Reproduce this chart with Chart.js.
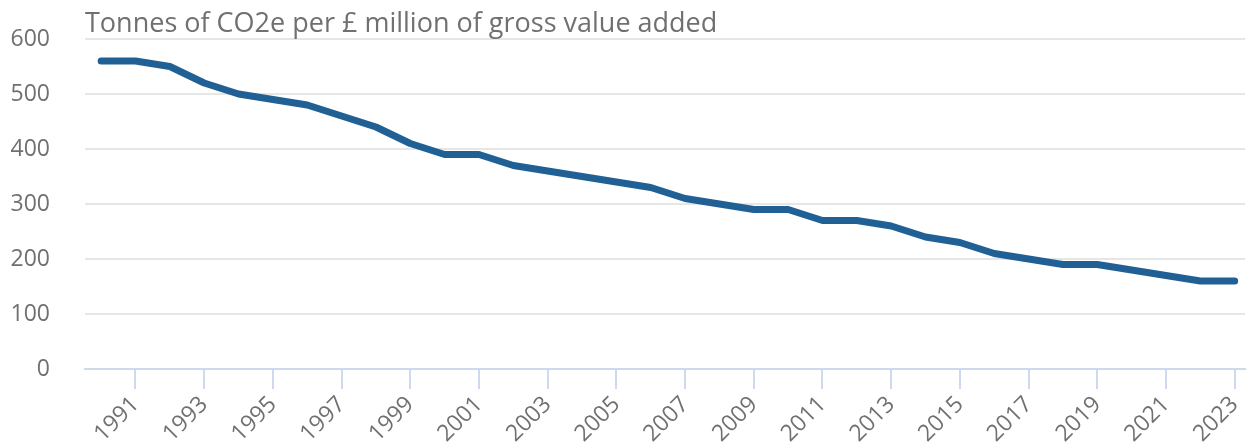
<!DOCTYPE html>
<html lang="en">
<head>
  <meta charset="UTF-8">
  <title>Emissions intensity</title>
  <script src="https://cdn.jsdelivr.net/npm/chart.js"></script>
  <style>
    html, body {
      margin: 0;
      padding: 0;
      background: #fff;
      font-family: 'Open Sans', sans-serif;
    }
    .wrap {
      position: relative;
      width: 1247px;
      height: 443px;
    }
    .chart-title {
      position: absolute;
      left: 85px;
      top: 3px;
      font-size: 27px;
      line-height: normal;
      color: #707071;
      margin: 0;
      font-weight: normal;
      white-space: nowrap;
    }
  </style>
</head>
<body>
  <div class="wrap">
    <h2 class="chart-title">Tonnes of CO2e per £ million of gross value added</h2>
    <canvas id="co2Chart" width="1247" height="443"></canvas>
  </div>

  <script>
    const years = [1990, 1991, 1992, 1993, 1994, 1995, 1996, 1997, 1998, 1999,
      2000, 2001, 2002, 2003, 2004, 2005, 2006, 2007, 2008, 2009,
      2010, 2011, 2012, 2013, 2014, 2015, 2016, 2017, 2018, 2019,
      2020, 2021, 2022, 2023];
    const tonnesPerMillion = [560, 560, 550, 520, 500, 490, 480, 460, 440, 410,
      390, 390, 370, 360, 350, 340, 330, 310, 300, 290,
      290, 270, 270, 260, 240, 230, 210, 200, 190, 190,
      180, 170, 160, 160];
    const tickYears = [1991, 1993, 1995, 1997, 1999, 2001, 2003, 2005, 2007, 2009,
      2011, 2013, 2015, 2017, 2019, 2021, 2023];
    const yTicks = [0, 100, 200, 300, 400, 500, 600];

    const ctx = document.getElementById("co2Chart").getContext("2d");
    new Chart(ctx, {
      type: "line",
      data: {
        datasets: [{
          label: "Tonnes of CO2e per £ million GVA",
          data: years.map((y, i) => ({ x: y, y: tonnesPerMillion[i] })),
          borderColor: "#206095",
          backgroundColor: "#206095",
          borderWidth: 7,
          borderCapStyle: "round",
          borderJoinStyle: "round",
          pointRadius: 0,
          tension: 0,
          fill: false
        }]
      },
      options: {
        responsive: false,
        animation: false,
        layout: {
          padding: { left: 10, right: 2, top: 39, bottom: 0 }
        },
        plugins: {
          legend: { display: false },
          title: { display: false },
          tooltip: { enabled: false }
        },
        scales: {
          x: {
            type: "linear",
            min: 1989.53,
            max: 2023.3,
            afterBuildTicks: axis => {
              axis.ticks = tickYears.map(v => ({ value: v }));
            },
            afterFit: axis => {
              axis.height = 74;
              axis.paddingLeft = 0;
              axis.paddingRight = 0;
            },
            ticks: {
              autoSkip: false,
              maxRotation: 45,
              minRotation: 45,
              padding: 2,
              color: "#707071",
              font: { family: "'Open Sans', sans-serif", size: 23 },
              callback: v => String(v)
            },
            grid: {
              drawOnChartArea: false,
              drawTicks: true,
              tickLength: 20,
              color: "#cfd9ec",
              lineWidth: 2
            },
            border: {
              display: true,
              color: "#cfd9ec",
              width: 2
            }
          },
          y: {
            min: 0,
            max: 600,
            afterBuildTicks: axis => {
              axis.ticks = yTicks.map(v => ({ value: v }));
            },
            afterFit: axis => {
              axis.width = 75;
              axis.paddingTop = 0;
              axis.paddingBottom = 0;
            },
            ticks: {
              padding: 35,
              color: "#707071",
              font: { family: "'Open Sans', sans-serif", size: 23 }
            },
            grid: {
              drawTicks: false,
              color: "#e6e6e6",
              lineWidth: 2
            },
            border: { display: false }
          }
        }
      }
    });
  </script>
</body>
</html>
